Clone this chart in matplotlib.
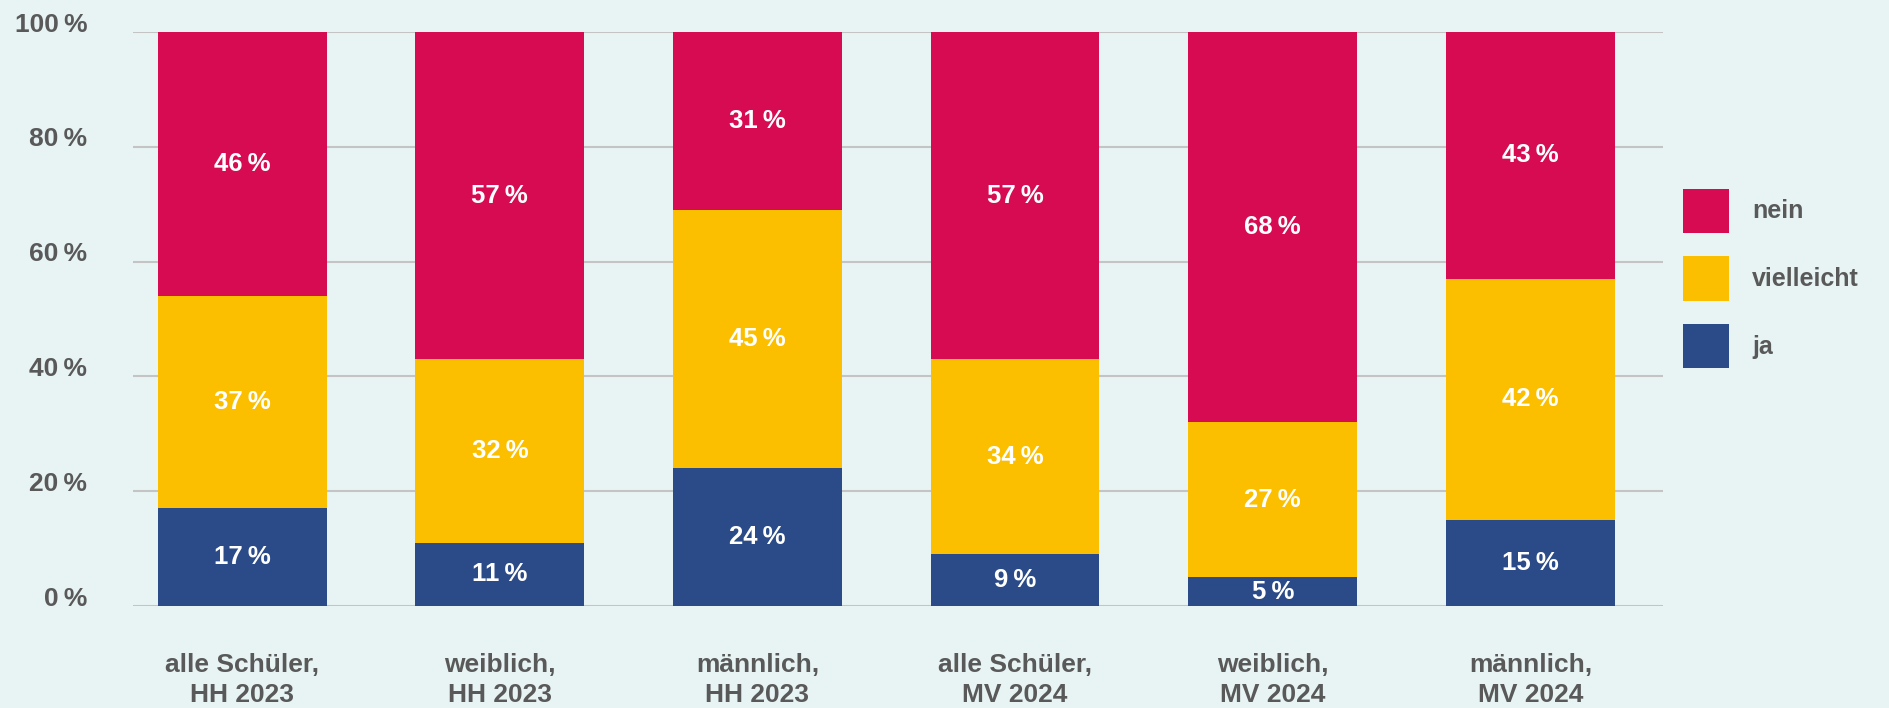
import matplotlib
matplotlib.use('Agg')
import matplotlib.pyplot as plt
import matplotlib.transforms as mtransforms
from matplotlib.patches import Patch
import numpy as np

# Antworten je Gruppe (Prozent)
groups = ['alle Schüler,\nHH 2023', 'weiblich,\nHH 2023', 'männlich,\nHH 2023',
          'alle Schüler,\nMV 2024', 'weiblich,\nMV 2024', 'männlich,\nMV 2024']
ja = [17, 11, 24, 9, 5, 15]
vielleicht = [37, 32, 45, 34, 27, 42]
nein = [46, 57, 31, 57, 68, 43]
series_names = ['ja', 'vielleicht', 'nein']
y_ticks = [0, 20, 40, 60, 80, 100]

colors = {'ja': '#2A4A88', 'vielleicht': '#FBBF00', 'nein': '#D60B51'}
bg = '#E8F4F4'
text_grey = '#595959'

plt.rcParams['font.family'] = ['Liberation Sans', 'DejaVu Sans']
plt.rcParams['font.weight'] = 'bold'

fig = plt.figure(figsize=(18.9, 7.08), dpi=100, facecolor=bg)
ax = fig.add_axes([133 / 1890, 102 / 708, 1530 / 1890, 574 / 708])
ax.set_facecolor(bg)

x = np.arange(len(groups))
width = 0.655
bottom = np.zeros(len(groups))
for name, vals in zip(series_names, [ja, vielleicht, nein]):
    vals = np.array(vals)
    ax.bar(x, vals, width, bottom=bottom, color=colors[name], label=name, zorder=3)
    for xi, b, v in zip(x, bottom, vals):
        ax.text(xi, b + v / 2, f'{v}\u2009%', ha='center', va='center',
                color='white', fontsize=18.5, fontweight='bold', zorder=4)
    bottom += vals

ax.set_xlim(-0.424, 5.515)
ax.set_ylim(0, 100)
ax.set_yticks(y_ticks)
ax.set_yticklabels([f'{t}\u2009%' for t in y_ticks])
ax.yaxis.grid(True, color='#C4C4C4', linewidth=1.5, zorder=0)
ax.set_axisbelow(True)
for s in ax.spines.values():
    s.set_visible(False)
ax.tick_params(axis='y', length=0, pad=33, labelsize=19, labelcolor=text_grey)
ax.tick_params(axis='x', length=0, pad=34, labelsize=19, labelcolor=text_grey)
ax.set_xticks(x)
ax.set_xticklabels(groups, linespacing=1.33)
for lbl in ax.get_xticklabels():
    lbl.set_fontweight('bold')

# y-Beschriftungen etwas oberhalb der Gitterlinien
offset = mtransforms.ScaledTranslation(0, 0.10, fig.dpi_scale_trans)
for lbl in ax.get_yticklabels():
    lbl.set_transform(lbl.get_transform() + offset)
    lbl.set_fontweight('bold')

handles = [Patch(facecolor=colors[n], label=n) for n in ['nein', 'vielleicht', 'ja']]
leg = fig.legend(handles=handles, loc='upper left',
                 bbox_to_anchor=(1671 / 1890, (708 - 176) / 708),
                 frameon=False, fontsize=18, borderpad=0,
                 handlelength=1.84, handleheight=2.35, labelspacing=0.94,
                 handletextpad=0.9)
for t in leg.get_texts():
    t.set_color(text_grey)
    t.set_fontweight('bold')

fig.savefig('out.png', dpi=100, facecolor=bg)
